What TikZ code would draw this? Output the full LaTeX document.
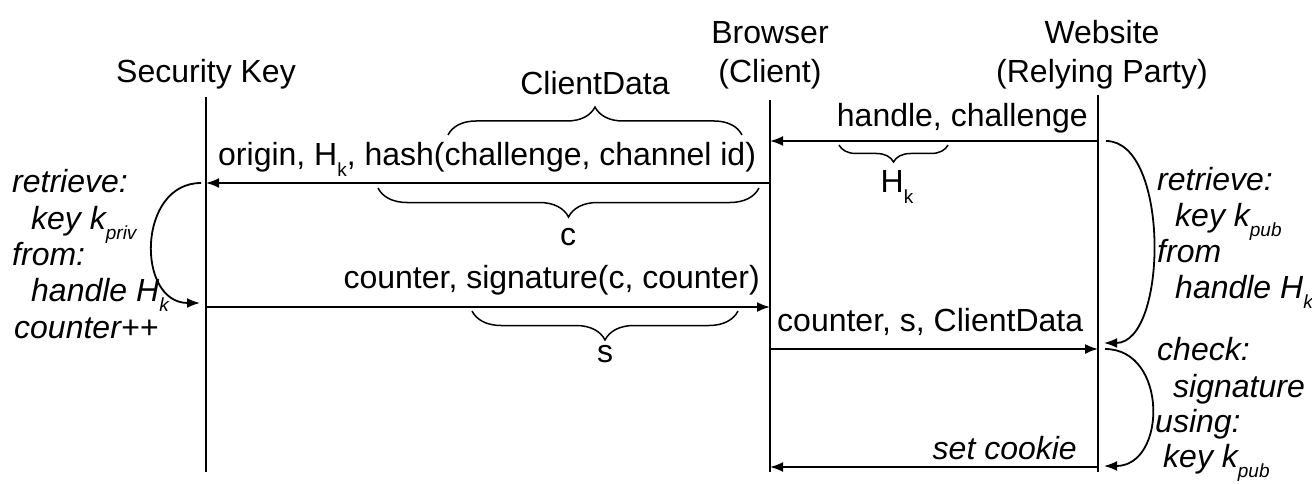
\documentclass[tikz,border=0pt]{standalone}
\usepackage{fontspec}
\setmainfont{Liberation Sans}
\usetikzlibrary{arrows.meta,decorations.pathreplacing}

% small lowered index, as in H_k or k_pub
\newcommand{\lowsub}[1]{\raisebox{-10pt}{\fontsize{19}{19}\selectfont #1}}

\begin{document}
\begin{tikzpicture}[x=1pt,y=-1pt,
  every node/.style={inner sep=0pt, font=\fontsize{32}{36}\selectfont},
  lifeline/.style={line width=1.8pt},
  msg/.style={line width=1.8pt, -{Latex[length=13pt,width=10pt]}},
  loopback/.style={line width=1.8pt, -{Latex[length=13pt,width=10pt]}},
  note/.style={anchor=base west, font=\fontsize{32}{36}\selectfont\itshape},
  curly/.style={line width=1.5pt, decorate, decoration={brace, amplitude=#1}},
  curlydown/.style={line width=1.5pt, decorate, decoration={brace, mirror, amplitude=#1}},
]
\useasboundingbox (0,0) rectangle (1312,484);

% participants
\node[anchor=base] (skT)  at (206,83)  {Security Key};
\node[anchor=base] (brw1) at (770,44)  {Browser};
\node[anchor=base] (brw2) at (770,83)  {(Client)};
\node[anchor=base] (web1) at (1102,44) {Website};
\node[anchor=base] (web2) at (1102,83) {(Relying Party)};

% lifelines
\coordinate (skA) at (206,97);  \coordinate (skZ) at (206,472);
\coordinate (brA) at (770,100); \coordinate (brZ) at (770,472);
\coordinate (wbA) at (1098,95); \coordinate (wbZ) at (1098,472);
\draw[lifeline] (skA) -- (skZ);
\draw[lifeline] (brA) -- (brZ);
\draw[lifeline] (wbA) -- (wbZ);

% message end points
\coordinate (m1s) at (1098,141); \coordinate (m1e) at (770,141);
\coordinate (m2s) at (770,183);  \coordinate (m2e) at (206,183);
\coordinate (m3s) at (206,307);  \coordinate (m3e) at (770,307);
\coordinate (m4s) at (770,349);  \coordinate (m4e) at (1098,349);
\coordinate (m5s) at (1098,467); \coordinate (m5e) at (770,467);

\draw[msg] (m1s) -- (m1e);
\draw[msg] (m2s) -- (m2e);
\draw[msg] (m3s) -- (m3e);
\draw[msg] (m4s) -- (m4e);
\draw[msg] (m5s) -- (m5e);

% message labels
\node[anchor=base east] (t1) at (1088,127) {handle, challenge};
\node[anchor=base west] (t2) at (218,166) {origin, H\lowsub{k}, hash(challenge, channel id)};
\node[anchor=base east] (t3) at (760,288) {counter, signature(c, counter)};
\node[anchor=base west] (t4) at (777,331) {counter, s, ClientData};
\node[anchor=base east, font=\fontsize{32}{36}\selectfont\itshape] (t5) at (1077,459) {set cookie};

% braces naming parts of the messages
\draw[curly=28] (448,135) -- (742,135);
\node[anchor=base] (cd) at (595,95) {ClientData};
\draw[curlydown=17] (839,145) -- (948,145);
\node[anchor=base] (hk) at (897,193) {H\lowsub{k}};
\draw[curlydown=29] (378,188) -- (759,188);
\node[anchor=base] (cc) at (568,245) {c};
\draw[curlydown=29] (472,311) -- (738,311);
\node[anchor=base] (ss) at (605,362) {s};

% local processing loops
\coordinate (lpA) at (201,183); \coordinate (lpB) at (200,303);
\draw[loopback] (lpA) .. controls +(-64,0) and +(-64,0) .. (lpB);
\coordinate (rpA) at (1106,141); \coordinate (rpB) at (1104,343);
\draw[loopback] (rpA) .. controls +(64,0) and +(64,0) .. (rpB);
\coordinate (rqA) at (1105,349); \coordinate (rqB) at (1104,466);
\draw[loopback] (rqA) .. controls +(63,0) and +(63,0) .. (rqB);

% notes beside the security key
\node[note] (l1) at (12,193)  {retrieve:};
\node[note] (l2) at (31,229)  {key k\lowsub{priv}};
\node[note] (l3) at (12,265)  {from:};
\node[note] (l4) at (31,301)  {handle H\lowsub{k}};
\node[note] (l5) at (14,338)  {counter++};

% notes beside the website
\node[note] (r1) at (1157,190) {retrieve:};
\node[note] (r2) at (1175,226) {key k\lowsub{pub}};
\node[note] (r3) at (1157,262) {from};
\node[note] (r4) at (1175,298) {handle H\lowsub{k}};
\node[note] (r5) at (1157,360) {check:};
\node[note] (r6) at (1173,397) {signature};
\node[note] (r7) at (1155,432) {using:};
\node[note] (r8) at (1163,467) {key k\lowsub{pub}};
\end{tikzpicture}
\end{document}
